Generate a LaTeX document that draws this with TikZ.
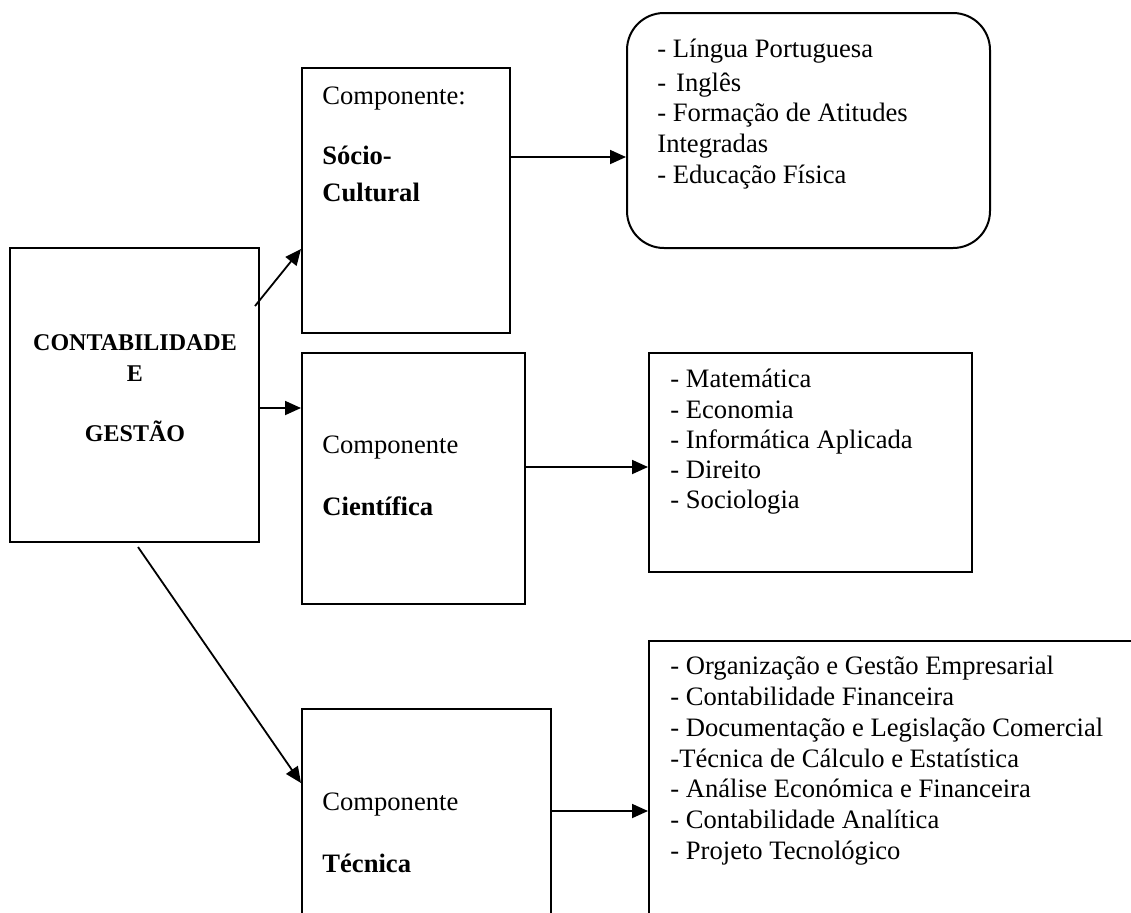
\documentclass[tikz,border=0pt]{standalone}
\usepackage{fontspec}
\setmainfont{Liberation Serif}
\usetikzlibrary{arrows.meta,fit}
\begin{document}
\begin{tikzpicture}[x=0.5pt,y=-0.5pt,
  box/.style={draw,line width=1pt,inner sep=0pt},
  rbox/.style={draw,line width=1pt,inner sep=0pt,rounded corners=18.5pt},
  arr/.style={line width=0.9pt,-{Triangle[length=8pt,width=7pt]}},
  txt/.style={inner sep=0pt,anchor=base west,font=\fontsize{13.3pt}{15pt}\selectfont},
  btxt/.style={inner sep=0pt,anchor=base west,font=\fontsize{13.3pt}{15pt}\selectfont\bfseries},
  mtxt/.style={inner sep=0pt,anchor=base,font=\fontsize{12pt}{14pt}\selectfont\bfseries}]
\useasboundingbox (0,0) rectangle (1131,912);
\fill[white] (0,0) rectangle (1131,912);
\clip (0,0) rectangle (1131,912);
% boxes
\node[box,fit={(10,248) (259,542)}] (main) {};
\node[box,fit={(302,68) (510,333)}] (soc) {};
\node[rbox,fit={(627,13) (990,248)}] (socl) {};
\node[box,fit={(302,353) (525,604)}] (cie) {};
\node[box,fit={(649,353) (972,572)}] (ciel) {};
\node[box,fit={(302,709) (551,960)}] (tec) {};
\node[box,fit={(649,641) (1160,960)}] (tecl) {};
% main text
\node[mtxt] (m1) at (135,350) {CONTABILIDADE};
\node[mtxt] (m2) at (135,381) {E};
\node[mtxt] (m3) at (135,441) {GESTÃO};
% component texts
\node[txt] (s1) at (322,104) {Componente:};
\node[btxt] (s2) at (322,164) {Sócio-};
\node[btxt] (s3) at (322,201) {Cultural};
\node[txt] (c1) at (322,453) {Componente};
\node[btxt] (c2) at (322,515) {Científica};
\node[txt] (t1) at (322,810) {Componente};
\node[btxt] (t2) at (322,872) {Técnica};
% lists
\node[txt] (l1) at (657,57) {- Língua Portuguesa};
\node[txt] (l2) at (657,91) {-\hspace{5pt}Inglês};
\node[txt] (l3) at (657,121) {- Formação de Atitudes};
\node[txt] (l4) at (657,152) {Integradas};
\node[txt] (l5) at (657,183) {- Educação Física};
\node[txt] (k1) at (670,387) {- Matemática};
\node[txt] (k2) at (670,418) {- Economia};
\node[txt] (k3) at (670,448) {- Informática Aplicada};
\node[txt] (k4) at (670,478) {- Direito};
\node[txt] (k5) at (670,508) {- Sociologia};
\node[txt] (j1) at (670,674) {- Organização e Gestão Empresarial};
\node[txt] (j2) at (670,705) {- Contabilidade Financeira};
\node[txt] (j3) at (670,736) {- Documentação e Legislação Comercial};
\node[txt] (j4) at (670,767) {-Técnica de Cálculo e Estatística};
\node[txt] (j5) at (670,797) {- Análise Económica e Financeira};
\node[txt] (j6) at (670,828) {- Contabilidade Analítica};
\node[txt] (j7) at (670,859) {- Projeto Tecnológico};
% connectors
\draw[arr] ([xshift=-2.5pt]main.east |- 0,306) -- (soc.west |- 0,249);
\draw[arr] (main.east |- 0,408) -- (cie.west |- 0,408);
\draw[arr] ([yshift=-2pt]main.south -| 138,0) -- (tec.west |- 0,783);
\draw[arr] (soc.east |- 0,157) -- (socl.west |- 0,157);
\draw[arr] (cie.east |- 0,467) -- (ciel.west |- 0,467);
\draw[arr] (tec.east |- 0,811) -- (tecl.west |- 0,811);
\end{tikzpicture}
\end{document}
